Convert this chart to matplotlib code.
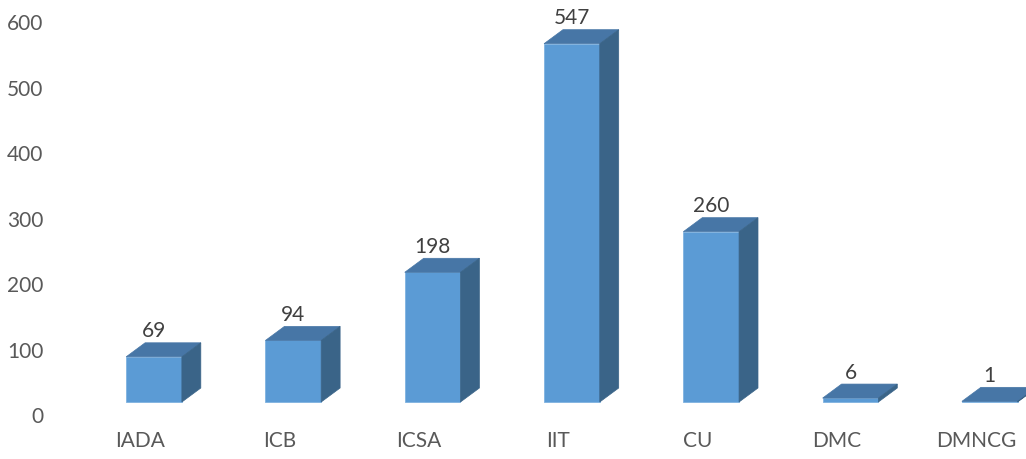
import matplotlib as mpl
import matplotlib.pyplot as plt
from matplotlib.patches import Polygon
import numpy as np

mpl.rcParams.update({'font.family': ['Lato', 'DejaVu Sans'],
                     'font.size': 15})

categories = ["IADA", "ICB", "ICSA", "IIT", "CU", "DMC", "DMNCG"]
counts = [69, 94, 198, 547, 260, 6, 1]
yticks = [0, 100, 200, 300, 400, 500, 600]

# 3d look
front_col = '#5B9BD5'
top_col = '#4776A6'
side_col = '#3A6488'
text_col = '#404040'
tick_col = '#595959'
width = 0.4
depth_x = 0.136   # in category units
depth_y = 21.4    # in value units
label_drop = 20   # tick labels sit a bit below the bar floor
cat_shift = 0.1   # category labels sit left of the bars

fig = plt.figure(figsize=(10.26, 4.59), dpi=100)
ax = fig.add_axes([60 / 1026, 0, 966 / 1026, 1])
ax.set_xlim(-0.675, 6.26)
ax.set_ylim(-87, 613.7)

x = np.arange(len(categories))
ax.bar(x, counts, width=width, color=front_col, edgecolor='#7FB2E0',
       linewidth=0.6, zorder=2)

for xi, v in zip(x, counts):
    l, r = xi - width / 2, xi + width / 2
    top = Polygon([(l, v), (r, v), (r + depth_x, v + depth_y),
                   (l + depth_x, v + depth_y)], closed=True,
                  facecolor=top_col, edgecolor=top_col, lw=0.5, zorder=3)
    side = Polygon([(r, 0), (r, v), (r + depth_x, v + depth_y),
                    (r + depth_x, depth_y)], closed=True,
                   facecolor=side_col, edgecolor=side_col, lw=0.5, zorder=3)
    ax.add_patch(top)
    ax.add_patch(side)
    ax.text(xi, v + depth_y + 2, str(v), ha='center', va='bottom',
            color=text_col, fontsize=15, zorder=4)
    ax.text(xi - cat_shift, -60, categories[xi], ha='center', va='center',
            color=tick_col, fontsize=15)

ax.set_yticks([t - label_drop for t in yticks], labels=[str(t) for t in yticks])
ax.tick_params(axis='y', length=0, pad=12, colors=tick_col, labelsize=15)
ax.set_xticks([])
for s in ax.spines.values():
    s.set_visible(False)
ax.patch.set_visible(False)

fig.savefig('out.png', dpi=100)
